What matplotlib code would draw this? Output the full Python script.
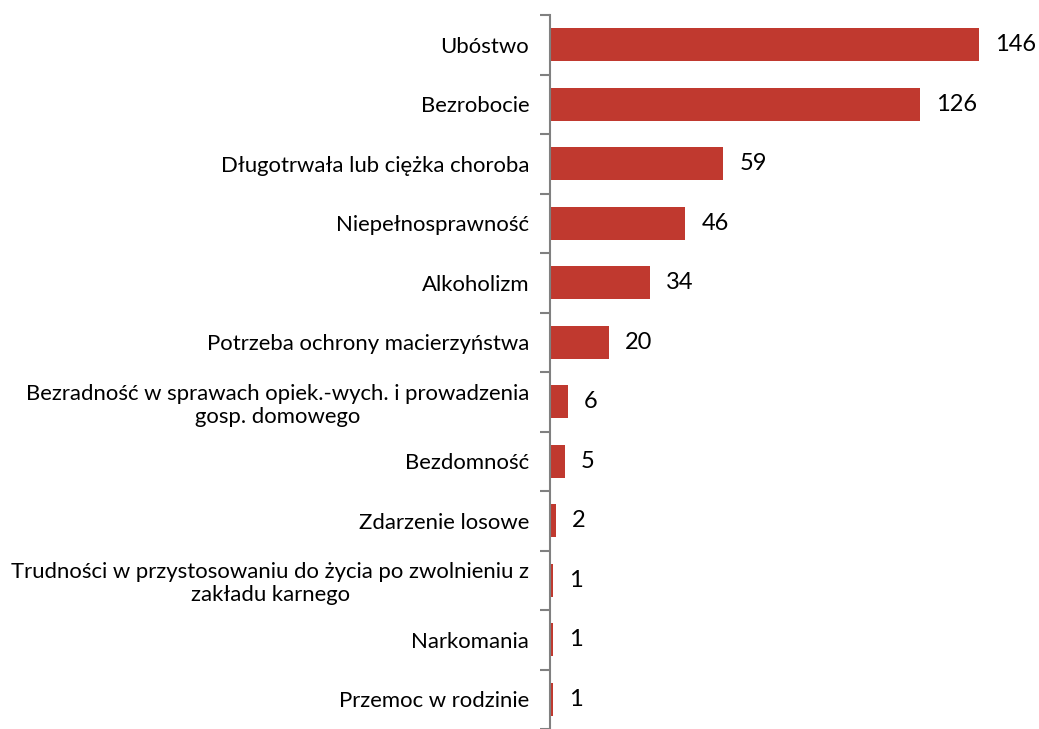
import matplotlib.pyplot as plt
import numpy as np

categories = [
    "Ubóstwo",
    "Bezrobocie",
    "Długotrwała lub ciężka choroba",
    "Niepełnosprawność",
    "Alkoholizm",
    "Potrzeba ochrony macierzyństwa",
    "Bezradność w sprawach opiek.-wych. i prowadzenia\ngosp. domowego",
    "Bezdomność",
    "Zdarzenie losowe",
    "Trudności w przystosowaniu do życia po zwolnieniu z\nzakładu karnego",
    "Narkomania",
    "Przemoc w rodzinie",
]
values = [146, 126, 59, 46, 34, 20, 6, 5, 2, 1, 1, 1]

plt.rcParams['font.family'] = ['Lato', 'DejaVu Sans']

fig = plt.figure(figsize=(10.39, 7.29), dpi=100)
ax = fig.add_axes([550 / 1039, 0.0, 470 / 1039, 1 - 15 / 729])

n = len(categories)
pos = np.arange(n)
ax.barh(pos, values, height=0.56, color="#C0392F")
ax.set_ylim(n - 0.5, -0.5)
ax.set_xlim(0, 160)

for p, v in zip(pos, values):
    ax.text(v + 5.5, p, str(v), va="center", ha="left", fontsize=17)

ax.set_yticks(pos)
ax.set_yticklabels(categories, fontsize=15.9, ha="right", multialignment="center",
                   linespacing=1.2)
ax.tick_params(axis="y", length=0, pad=15)
ax.set_yticks(np.arange(n + 1) - 0.5, minor=True)
ax.tick_params(axis="y", which="minor", length=7, color="#808080", width=1.5)
ax.set_xticks([])

for s in ["top", "right", "bottom"]:
    ax.spines[s].set_visible(False)
ax.spines["left"].set_color("#808080")
ax.spines["left"].set_linewidth(1.5)

fig.savefig("out.png", dpi=100)
